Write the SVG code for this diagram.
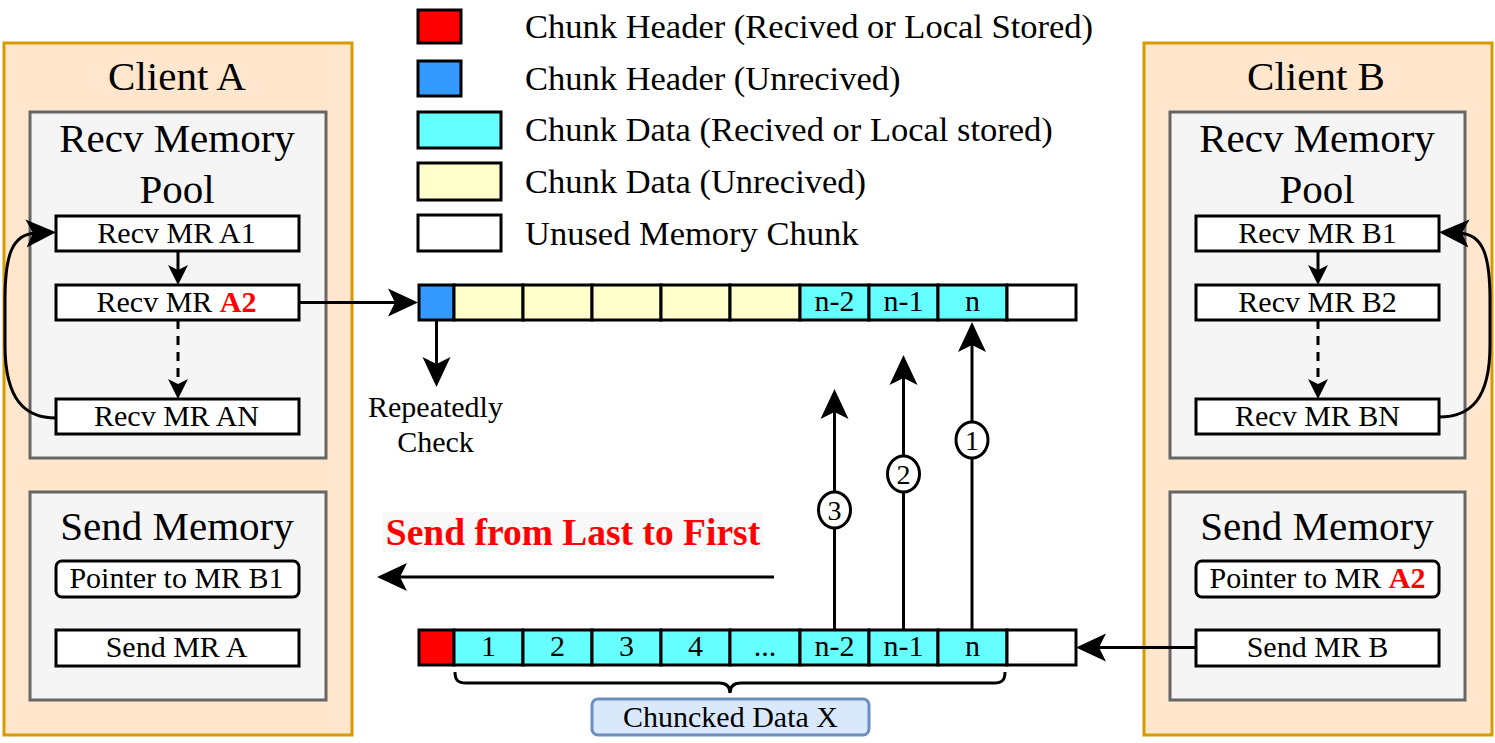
<svg xmlns="http://www.w3.org/2000/svg" width="1495" height="743" viewBox="0 0 1495 743">
<defs>
<style>
text{font-family:"Liberation Serif","Times New Roman",serif;fill:#000;}
.client{fill:#ffe6cc;stroke:#d79b00;stroke-width:3;}
.pool{fill:#f5f5f5;stroke:#666666;stroke-width:3;}
.mr{fill:#fff;stroke:#000;stroke-width:3;}
.title{font-size:41px;text-anchor:middle;}
.lbl{font-size:30px;text-anchor:middle;}
.leg{font-size:34.5px;}
.red{fill:#ff0000;font-weight:bold;}
.cell{stroke:#000;stroke-width:3;}
.hr{fill:#ff0000;}
.hb{fill:#3399ff;}
.dc{fill:#66ffff;}
.dy{fill:#ffffcc;}
.un{fill:#ffffff;}
.con{fill:none;stroke:#000;stroke-width:3;}
.big{marker-end:url(#bigArrow);}
.small{marker-end:url(#smallArrow);}
.dash{stroke-dasharray:9 7;}
.num{fill:#fff;stroke:#000;stroke-width:3;}
.numt{font-size:28px;text-anchor:middle;}
</style>
<marker id="bigArrow" viewBox="0 0 30 30" markerWidth="30" markerHeight="30" refX="10" refY="15" orient="auto" markerUnits="userSpaceOnUse">
<path d="M0,1 L30,15 L0,29 L7,15 Z" fill="#000"/>
</marker>
<marker id="smallArrow" viewBox="0 0 20 22" markerWidth="20" markerHeight="22" refX="8" refY="11" orient="auto" markerUnits="userSpaceOnUse">
<path d="M0,1 L20,11 L0,21 L5,11 Z" fill="#000"/>
</marker>
</defs>
<rect width="1495" height="743" fill="#fff"/>

<g id="client-a">
<rect class="client" x="4" y="43" width="348" height="692"/>
<text class="title" x="177" y="90">Client A</text>
</g>
<g id="recv-pool-a">
<rect class="pool" x="30" y="112" width="296" height="346"/>
<text class="title" x="177" y="152">Recv Memory</text>
<text class="title" x="177" y="203">Pool</text>
</g>
<g id="mr-a1"><rect class="mr" x="56" y="216" width="243" height="35"/><text class="lbl" x="176.5" y="243">Recv MR A1</text></g>
<g id="mr-a2"><rect class="mr" x="56" y="285" width="243" height="35"/><text class="lbl" x="176.5" y="312">Recv MR <tspan class="red">A2</tspan></text></g>
<g id="mr-an"><rect class="mr" x="56" y="399" width="243" height="35"/><text class="lbl" x="176.5" y="426">Recv MR AN</text></g>
<g id="send-mem-a">
<rect class="pool" x="30" y="492" width="296" height="208"/>
<text class="title" x="177" y="540">Send Memory</text>
</g>
<g id="ptr-a"><rect class="mr" x="56" y="561" width="243" height="36" rx="6"/><text class="lbl" x="176.5" y="588">Pointer to MR B1</text></g>
<g id="send-mr-a"><rect class="mr" x="56" y="630" width="243" height="36"/><text class="lbl" x="176.5" y="657">Send MR A</text></g>

<g id="client-b">
<rect class="client" x="1144" y="43" width="348" height="692"/>
<text class="title" x="1316" y="90">Client B</text>
</g>
<g id="recv-pool-b">
<rect class="pool" x="1170" y="112" width="295" height="346"/>
<text class="title" x="1317" y="152">Recv Memory</text>
<text class="title" x="1317" y="203">Pool</text>
</g>
<g id="mr-b1"><rect class="mr" x="1196" y="216" width="243" height="35"/><text class="lbl" x="1317.5" y="243">Recv MR B1</text></g>
<g id="mr-b2"><rect class="mr" x="1196" y="285" width="243" height="35"/><text class="lbl" x="1317.5" y="312">Recv MR B2</text></g>
<g id="mr-bn"><rect class="mr" x="1196" y="399" width="243" height="35"/><text class="lbl" x="1317.5" y="426">Recv MR BN</text></g>
<g id="send-mem-b">
<rect class="pool" x="1170" y="492" width="295" height="208"/>
<text class="title" x="1317" y="540">Send Memory</text>
</g>
<g id="ptr-b"><rect class="mr" x="1196" y="561" width="243" height="36" rx="6"/><text class="lbl" x="1317.5" y="588">Pointer to MR <tspan class="red">A2</tspan></text></g>
<g id="send-mr-b"><rect class="mr" x="1196" y="630" width="243" height="36"/><text class="lbl" x="1317.5" y="657">Send MR B</text></g>

<g id="legend">
<g id="legend-1"><rect class="cell hr" x="418" y="10" width="43" height="33"/><text class="leg" x="525" y="38">Chunk Header (Recived or Local Stored)</text></g>
<g id="legend-2"><rect class="cell hb" x="418" y="61" width="43" height="35"/><text class="leg" x="525" y="90">Chunk Header (Unrecived)</text></g>
<g id="legend-3"><rect class="cell dc" x="418" y="112" width="83" height="36"/><text class="leg" x="525" y="141">Chunk Data (Recived or Local stored)</text></g>
<g id="legend-4"><rect class="cell dy" x="418" y="163" width="83" height="37"/><text class="leg" x="525" y="193">Chunk Data (Unrecived)</text></g>
<g id="legend-5"><rect class="cell un" x="418" y="215" width="83" height="36"/><text class="leg" x="525" y="245">Unused Memory Chunk</text></g>
</g>

<g id="recv-array">
<rect class="cell hb" x="419" y="285" width="35" height="35"/>
<rect class="cell dy" x="454" y="285" width="69" height="35"/>
<rect class="cell dy" x="523" y="285" width="69" height="35"/>
<rect class="cell dy" x="592" y="285" width="69" height="35"/>
<rect class="cell dy" x="661" y="285" width="69" height="35"/>
<rect class="cell dy" x="730" y="285" width="70" height="35"/>
<rect class="cell dc" x="800" y="285" width="69" height="35"/>
<rect class="cell dc" x="869" y="285" width="69" height="35"/>
<rect class="cell dc" x="938" y="285" width="69" height="35"/>
<rect class="cell un" x="1007" y="285" width="69" height="35"/>
<text class="lbl" x="834.5" y="311">n-2</text>
<text class="lbl" x="903.5" y="311">n-1</text>
<text class="lbl" x="972.5" y="311">n</text>
</g>

<g id="send-array">
<rect class="cell hr" x="419" y="630" width="35" height="35"/>
<rect class="cell dc" x="454" y="630" width="69" height="35"/>
<rect class="cell dc" x="523" y="630" width="69" height="35"/>
<rect class="cell dc" x="592" y="630" width="69" height="35"/>
<rect class="cell dc" x="661" y="630" width="69" height="35"/>
<rect class="cell dc" x="730" y="630" width="70" height="35"/>
<rect class="cell dc" x="800" y="630" width="69" height="35"/>
<rect class="cell dc" x="869" y="630" width="69" height="35"/>
<rect class="cell dc" x="938" y="630" width="69" height="35"/>
<rect class="cell un" x="1007" y="630" width="69" height="35"/>
<text class="lbl" x="488.5" y="656">1</text>
<text class="lbl" x="557.5" y="656">2</text>
<text class="lbl" x="626.5" y="656">3</text>
<text class="lbl" x="695.5" y="656">4</text>
<text class="lbl" x="765" y="656">...</text>
<text class="lbl" x="834.5" y="656">n-2</text>
<text class="lbl" x="903.5" y="656">n-1</text>
<text class="lbl" x="972.5" y="656">n</text>
</g>

<g id="brace">
<path class="con" d="M455,672 C455,680 458,683 466,683 L719,683 C726,683 730,686 730,693 C730,686 734,683 741,683 L994,683 C1002,683 1005,680 1005,672"/>
</g>
<g id="chunked-label">
<rect x="592" y="699" width="277" height="36" rx="6" fill="#dae8fc" stroke="#6c8ebf" stroke-width="3"/>
<text class="lbl" x="730.5" y="727">Chuncked Data X</text>
</g>

<g id="send-order-label">
<rect x="383" y="512" width="380" height="40" fill="#f8f8f8"/>
<text x="573" y="545" font-size="37.5" font-weight="bold" text-anchor="middle" style="fill:#ff0000">Send from Last to First</text>
</g>

<g id="repeatedly-label">
<text class="lbl" x="435.5" y="417">Repeatedly</text>
<text class="lbl" x="435.5" y="452">Check</text>
</g>

<g id="connectors">
<line class="con small" x1="178" y1="251" x2="178" y2="273"/>
<line class="con small dash" x1="178" y1="320" x2="178" y2="387"/>
<path class="con big" d="M56,418 C25,418 5,400 5,345 L5,300 C5,255 12,234 36,233"/>
<line class="con big" x1="299" y1="302.5" x2="398" y2="302.5"/>
<line class="con big" x1="436.5" y1="320" x2="436.5" y2="367"/>
<line class="con big" x1="972" y1="630" x2="972" y2="342"/>
<line class="con big" x1="903.5" y1="630" x2="903.5" y2="375"/>
<line class="con big" x1="834.5" y1="630" x2="834.5" y2="409"/>
<line class="con big" x1="774" y1="577" x2="397" y2="577"/>
<line class="con big" x1="1196" y1="647.5" x2="1096" y2="647.5"/>
<line class="con small" x1="1318" y1="251" x2="1318" y2="273"/>
<line class="con small dash" x1="1318" y1="320" x2="1318" y2="387"/>
<path class="con big" d="M1439,417 C1470,417 1490,400 1490,345 L1490,300 C1490,255 1483,234 1459,233"/>
</g>

<g id="step-1"><ellipse class="num" cx="972" cy="440" rx="16" ry="18"/><text class="numt" x="972" y="450">1</text></g>
<g id="step-2"><ellipse class="num" cx="903.5" cy="474" rx="16" ry="18"/><text class="numt" x="903.5" y="484">2</text></g>
<g id="step-3"><ellipse class="num" cx="834.5" cy="510" rx="16" ry="18"/><text class="numt" x="834.5" y="520">3</text></g>
</svg>
